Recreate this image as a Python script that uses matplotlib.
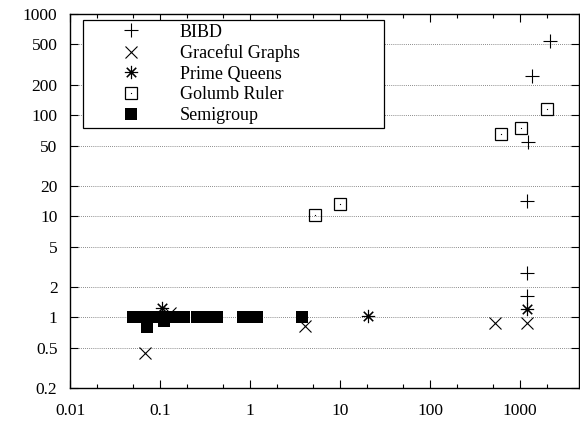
import matplotlib
matplotlib.use("Agg")
import matplotlib.pyplot as plt
from matplotlib.legend_handler import HandlerTuple
from matplotlib.lines import Line2D
from matplotlib.ticker import FixedLocator, NullFormatter, NullLocator

plt.rcParams["font.family"] = ["Liberation Serif", "DejaVu Serif"]

# --- data (x: time, y: ratio) ---
bibd_x = [2150, 1350, 1220, 1210, 1200, 1200]
bibd_y = [546, 245, 54, 14.1, 2.72, 1.62]

graceful_x = [0.069, 0.13, 4.08, 527, 1190]
graceful_y = [0.44, 1.1, 0.82, 0.886, 0.886]

queens_x = [0.106, 20.5, 1196]
queens_y = [1.25, 1.02, 1.2]

golumb_x = [5.27, 10.0, 611, 1018, 2010]
golumb_y = [10.2, 13.3, 65.5, 74.6, 116]

semi_x = [0.05, 0.065, 0.08, 0.1, 0.12, 0.15, 0.185,
          0.26, 0.33, 0.43, 0.84, 1.0, 1.2, 3.8, 0.071, 0.11]
semi_y = [1.0, 1.0, 1.0, 1.0, 1.0, 1.0, 1.0,
          1.0, 1.0, 1.0, 1.0, 1.0, 1.0, 1.0, 0.8, 0.93]

ytick_vals = [0.2, 0.5, 1, 2, 5, 10, 20, 50, 100, 200, 500, 1000]
ytick_labels = ["0.2", "0.5", "1", "2", "5", "10", "20", "50", "100", "200", "500", "1000"]
xtick_vals = [0.01, 0.1, 1, 10, 100, 1000]
xtick_labels = ["0.01", "0.1", "1", "10", "100", "1000"]

fig = plt.figure(figsize=(5.8, 4.24), dpi=100)
ax = fig.add_axes([70 / 580, 1 - 388 / 424, 509 / 580, 374 / 424])
ax.set_xscale("log")
ax.set_yscale("log")
ax.set_xlim(0.01, 4530)
ax.set_ylim(0.2, 1000)

ax.set_yticks(ytick_vals)
ax.set_yticklabels(ytick_labels)
ax.yaxis.set_minor_locator(NullLocator())
ax.set_xticks(xtick_vals)
ax.set_xticklabels(xtick_labels)
minors = [m * 10.0 ** e for e in range(-2, 4) for m in (2, 5)]
ax.xaxis.set_minor_locator(FixedLocator(minors))
ax.xaxis.set_minor_formatter(NullFormatter())

ax.tick_params(which="both", direction="in", top=True, right=True,
               labelsize=12.5, width=0.8, colors="black")
ax.tick_params(which="major", length=6)
ax.tick_params(which="minor", length=3)
ax.tick_params(axis="x", pad=11)
ax.tick_params(axis="y", pad=9)

for y in ytick_vals[1:-1]:
    ax.axhline(y, color="#666666", lw=0.6, ls=(0, (1, 1.5)), zorder=1)

for s in ax.spines.values():
    s.set_linewidth(1.0)

mk = dict(ls="none", color="black", zorder=3)
ax.plot(bibd_x, bibd_y, marker="+", ms=10, mew=0.8, **mk)
ax.plot(graceful_x, graceful_y, marker="x", ms=8, mew=0.8, **mk)
ax.plot(queens_x, queens_y, marker=(8, 2, 0), ms=9.5, mew=0.8, **mk)
ax.plot(golumb_x, golumb_y, marker="s", ms=8, mew=0.9, mfc="none", **mk)
ax.plot(golumb_x, golumb_y, marker="s", ms=0.8, mew=0, **mk)
ax.plot(semi_x, semi_y, marker="s", ms=9, mew=0, **mk)

h_bibd = Line2D([], [], marker="+", ms=10, mew=0.8, color="black", ls="none")
h_grace = Line2D([], [], marker="x", ms=8, mew=0.8, color="black", ls="none")
h_queen = Line2D([], [], marker=(8, 2, 0), ms=9.5, mew=0.8, color="black", ls="none")
h_gol1 = Line2D([], [], marker="s", ms=8, mew=0.9, mfc="none", color="black", ls="none")
h_gol2 = Line2D([], [], marker="s", ms=0.8, mew=0, color="black", ls="none")
h_semi = Line2D([], [], marker="s", ms=9, mew=0, color="black", ls="none")

leg = ax.legend([h_bibd, h_grace, h_queen, (h_gol1, h_gol2), h_semi],
                ["BIBD", "Graceful Graphs", "Prime Queens", "Golumb Ruler", "Semigroup"],
                handler_map={tuple: HandlerTuple(ndivide=1, pad=0)},
                loc="upper left", bbox_to_anchor=(0.0255, 0.703, 0.5915, 0.281),
                mode="expand", fontsize=13, frameon=True, fancybox=False,
                edgecolor="black", framealpha=1, borderpad=0.2,
                handlelength=4.93, handletextpad=0.24, labelspacing=0.2,
                borderaxespad=0)
leg.get_frame().set_linewidth(0.9)
leg.set_zorder(5)

fig.savefig("out.png", dpi=100)
